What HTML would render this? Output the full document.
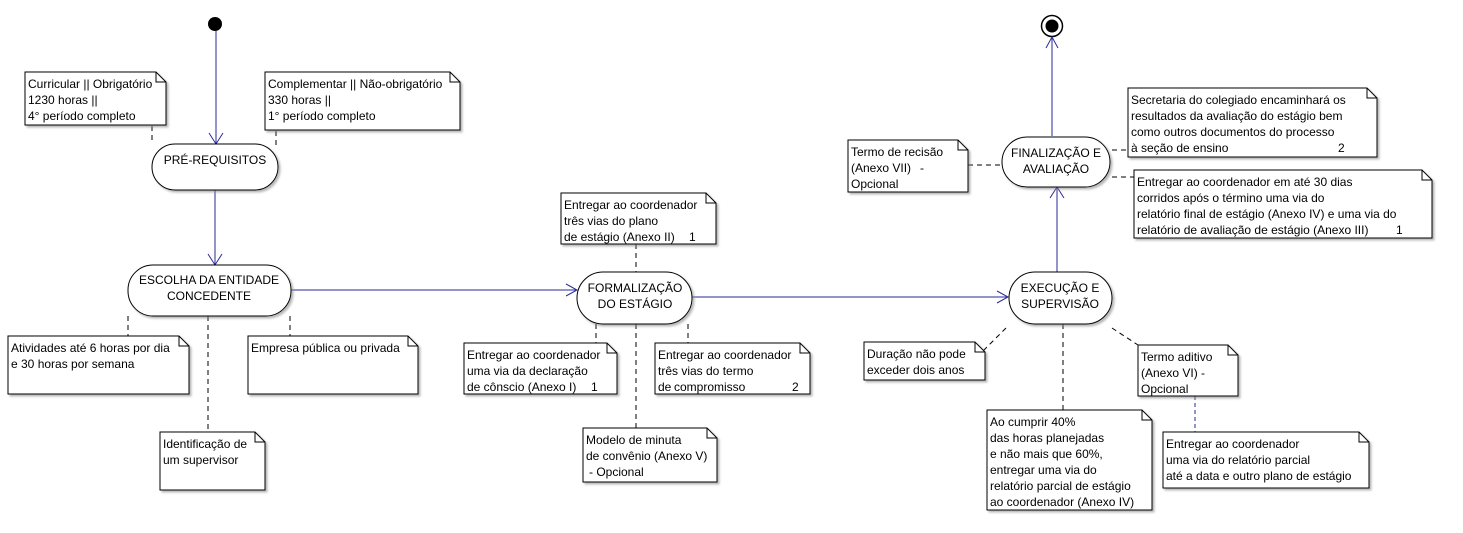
<!DOCTYPE html>
<html><head><meta charset="utf-8"><style>
html,body{margin:0;padding:0;background:#fff;}
svg{display:block;}
text{font-family:"Liberation Sans",sans-serif;font-size:12px;fill:#000;}
</style></head><body>
<svg width="1463" height="533" viewBox="0 0 1463 533" xmlns="http://www.w3.org/2000/svg">
<defs>
<filter id="sh" x="-10%" y="-10%" width="130%" height="130%"><feDropShadow dx="2" dy="2" stdDeviation="1" flood-color="#888" flood-opacity="0.6"/></filter>
</defs>
<!-- Start -->
<circle cx="215" cy="24" r="7" fill="#000"/>
<!-- End -->
<circle cx="1052" cy="26" r="10.5" fill="#fff" stroke="#000" stroke-width="1.5"/>
<circle cx="1052" cy="26" r="6.5" fill="#000"/>

<g stroke="#2a2a9a" stroke-width="1" fill="none">
<line x1="216" y1="31" x2="216" y2="144"/><polyline points="209,133 216,144 223,133"/>
<line x1="215" y1="190" x2="215" y2="265"/><polyline points="208,254 215,265 222,254"/>
<line x1="291" y1="290" x2="577" y2="290"/><polyline points="566,284 577,290 566,296"/>
<line x1="692" y1="297" x2="1008" y2="297"/><polyline points="997,291 1008,297 997,303"/>
<line x1="1057" y1="272" x2="1057" y2="187"/><polyline points="1050,198 1057,187 1064,198"/>
<line x1="1052" y1="136" x2="1052" y2="37"/><polyline points="1046,48 1052,37 1058,48"/>
<line x1="1195" y1="382" x2="1195" y2="432" stroke-dasharray="4,3"/>
</g>

<g stroke="#000" stroke-width="1" stroke-dasharray="5,4" fill="none">
<line x1="152" y1="126" x2="152" y2="142"/>
<line x1="276" y1="131" x2="276" y2="145"/>
<line x1="128" y1="316" x2="128" y2="336"/>
<line x1="208" y1="316" x2="208" y2="432"/>
<line x1="290" y1="316" x2="290" y2="336"/>
<line x1="636" y1="244" x2="636" y2="272"/>
<line x1="596" y1="324" x2="596" y2="343"/>
<line x1="636" y1="324" x2="636" y2="428"/>
<line x1="688" y1="324" x2="688" y2="343"/>
<line x1="1006" y1="328" x2="981" y2="353"/>
<line x1="1063" y1="324" x2="1063" y2="410"/>
<line x1="1112" y1="328" x2="1138" y2="345"/>
<line x1="968" y1="165" x2="1002" y2="165"/>
<line x1="1112" y1="150" x2="1128" y2="150"/>
<line x1="1112" y1="177" x2="1134" y2="177"/>
</g>

<g fill="#fff" stroke="#000" stroke-width="1" filter="url(#sh)">
<rect x="152" y="144" width="126" height="46" rx="23"/>
<rect x="128" y="265" width="163" height="51" rx="25"/>
<rect x="577" y="272" width="115" height="52" rx="26"/>
<rect x="1009" y="272" width="103" height="52" rx="26"/>
<rect x="1002" y="137" width="108" height="50" rx="25"/>
</g>
<g text-anchor="middle">
<text x="215" y="164">PRÉ-REQUISITOS</text>
<text x="209" y="284">ESCOLHA DA ENTIDADE</text>
<text x="209" y="300">CONCEDENTE</text>
<text x="635" y="292">FORMALIZAÇÃO</text>
<text x="635" y="308">DO ESTÁGIO</text>
<text x="1060" y="292">EXECUÇÃO E</text>
<text x="1060" y="308">SUPERVISÃO</text>
<text x="1056" y="157">FINALIZAÇÃO E</text>
<text x="1056" y="173">AVALIAÇÃO</text>
</g>

<g fill="#fff" stroke="#000" stroke-width="1">
<g filter="url(#sh)">
<path d="M25,72 H156 L166,82 V125 H25 Z"/>
<path d="M265,72 H450 L460,82 V130 H265 Z"/>
<path d="M8,336 H179 L189,346 V394 H8 Z"/>
<path d="M248,336 H408 L418,346 V394 H248 Z"/>
<path d="M160,432 H255 L265,442 V490 H160 Z"/>
<path d="M561,193 H706 L716,203 V244 H561 Z"/>
<path d="M464,343 H607 L617,353 V394 H464 Z"/>
<path d="M655,343 H800 L810,353 V394 H655 Z"/>
<path d="M583,428 H707 L717,438 V482 H583 Z"/>
<path d="M864,342 H975 L985,352 V380 H864 Z"/>
<path d="M987,410 H1142 L1152,420 V510 H987 Z"/>
<path d="M1138,345 H1228 L1238,355 V396 H1138 Z"/>
<path d="M1163,432 H1359 L1369,442 V488 H1163 Z"/>
<path d="M848,140 H958 L968,150 V192 H848 Z"/>
<path d="M1128,88 H1367 L1377,98 V157 H1128 Z"/>
<path d="M1134,170 H1422 L1432,180 V238 H1134 Z"/>
</g>
<g fill="none">
<path d="M156,72 V82 H166"/><path d="M450,72 V82 H460"/><path d="M179,336 V346 H189"/>
<path d="M408,336 V346 H418"/><path d="M255,432 V442 H265"/><path d="M706,193 V203 H716"/>
<path d="M607,343 V353 H617"/><path d="M800,343 V353 H810"/><path d="M707,428 V438 H717"/>
<path d="M975,342 V352 H985"/><path d="M1142,410 V420 H1152"/><path d="M1228,345 V355 H1238"/>
<path d="M1359,432 V442 H1369"/><path d="M958,140 V150 H968"/><path d="M1367,88 V98 H1377"/>
<path d="M1422,170 V180 H1432"/>
</g>
</g>
<g>
<text x="28" y="88">Curricular || Obrigatório</text>
<text x="28" y="104">1230 horas ||</text>
<text x="28" y="120">4° período completo</text>
<text x="268" y="88">Complementar || Não-obrigatório</text>
<text x="268" y="104">330 horas ||</text>
<text x="268" y="120">1° período completo</text>
<text x="11" y="352">Atividades até 6 horas por dia</text>
<text x="11" y="368">e 30 horas por semana</text>
<text x="251" y="352">Empresa pública ou privada</text>
<text x="163" y="448">Identificação de</text>
<text x="163" y="464">um supervisor</text>
<text x="564" y="209">Entregar ao coordenador</text>
<text x="564" y="225">três vias do plano</text>
<text x="564" y="241">de estágio (Anexo II)</text>
<text x="689" y="241">1</text>
<text x="467" y="359">Entregar ao coordenador</text>
<text x="467" y="375">uma via da declaração</text>
<text x="467" y="391">de cônscio (Anexo I)</text>
<text x="591" y="391">1</text>
<text x="658" y="359">Entregar ao coordenador</text>
<text x="658" y="375">três vias do termo</text>
<text x="658" y="391">de</text>
<text x="674" y="391">compromisso</text>
<text x="792" y="391">2</text>
<text x="586" y="444">Modelo de minuta</text>
<text x="586" y="460">de convênio (Anexo V)</text>
<text x="589" y="476">- Opcional</text>
<text x="867" y="358">Duração não pode</text>
<text x="867" y="374">exceder dois anos</text>
<text x="990" y="426">Ao cumprir 40%</text>
<text x="990" y="442">das horas planejadas</text>
<text x="990" y="458">e não mais que 60%,</text>
<text x="990" y="474">entregar uma via do</text>
<text x="990" y="490">relatório parcial de estágio</text>
<text x="990" y="506">ao coordenador (Anexo IV)</text>
<text x="1141" y="361">Termo aditivo</text>
<text x="1141" y="377">(Anexo VI) -</text>
<text x="1141" y="393">Opcional</text>
<text x="1166" y="448">Entregar ao coordenador</text>
<text x="1166" y="464">uma via do relatório parcial</text>
<text x="1166" y="480">até a data e outro plano de estágio</text>
<text x="851" y="156">Termo de recisão</text>
<text x="851" y="172">(Anexo VII)</text>
<text x="920" y="172">-</text>
<text x="851" y="188">Opcional</text>
<text x="1131" y="104">Secretaria do colegiado encaminhará os</text>
<text x="1131" y="120">resultados da avaliação do estágio bem</text>
<text x="1131" y="136">como outros documentos do processo</text>
<text x="1131" y="152">à seção de ensino</text>
<text x="1338" y="152">2</text>
<text x="1137" y="186">Entregar ao coordenador em até 30 dias</text>
<text x="1137" y="202">corridos após o término uma via do</text>
<text x="1137" y="218">relatório final de estágio (Anexo IV) e uma via do</text>
<text x="1137" y="234">relatório de avaliação de estágio (Anexo III)</text>
<text x="1396" y="234">1</text>
</g>
</svg>
</body></html>
